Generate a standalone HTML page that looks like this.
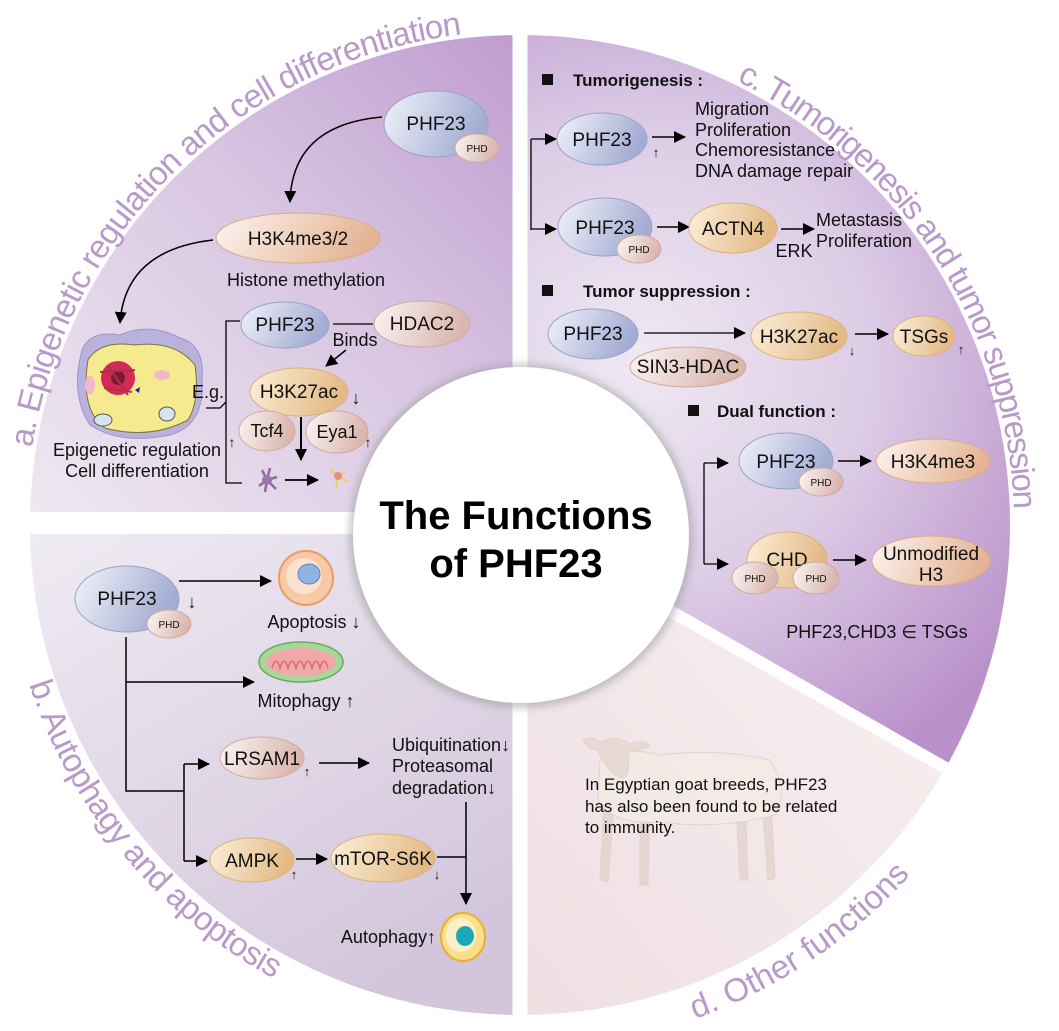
<!DOCTYPE html>
<html><head><meta charset="utf-8"><style>
html,body{margin:0;padding:0;background:#fff;}
svg{display:block;font-family:"Liberation Sans",Arial,sans-serif;}
</style></head><body>
<svg width="1059" height="1031" viewBox="0 0 1059 1031" xmlns="http://www.w3.org/2000/svg">
<defs>
<linearGradient id="ga" x1="0" y1="1" x2="1" y2="0"><stop offset="0" stop-color="#efe9f2"/><stop offset="0.55" stop-color="#d9c6e2"/><stop offset="1" stop-color="#bf9cd0"/></linearGradient>
<radialGradient id="gc" cx="640" cy="360" r="470" gradientUnits="userSpaceOnUse"><stop offset="0" stop-color="#efe9f3"/><stop offset="0.5" stop-color="#dccbe5"/><stop offset="1" stop-color="#b990ca"/></radialGradient>
<linearGradient id="gb" x1="0" y1="0" x2="0.6" y2="1"><stop offset="0" stop-color="#f0ecf3"/><stop offset="1" stop-color="#d3c6dc"/></linearGradient>
<linearGradient id="gd" x1="1" y1="0" x2="0" y2="1"><stop offset="0" stop-color="#f9f1f1"/><stop offset="1" stop-color="#efdfe2"/></linearGradient>
<linearGradient id="blue" x1="0" y1="0" x2="1" y2="0.3"><stop offset="0" stop-color="#f2f4fa"/><stop offset="1" stop-color="#a3acd3"/></linearGradient>
<linearGradient id="peach" x1="0" y1="0" x2="1" y2="0.2"><stop offset="0" stop-color="#fdf5f0"/><stop offset="1" stop-color="#e4b494"/></linearGradient>
<linearGradient id="orange" x1="0" y1="0" x2="1" y2="0.2"><stop offset="0" stop-color="#fcf0da"/><stop offset="1" stop-color="#e3ba86"/></linearGradient>
<linearGradient id="pink" x1="0" y1="0" x2="1" y2="0.2"><stop offset="0" stop-color="#fbf5f4"/><stop offset="1" stop-color="#d9b6ae"/></linearGradient>
<marker id="ah" markerUnits="userSpaceOnUse" markerWidth="12" markerHeight="12" refX="11" refY="6" orient="auto"><path d="M0,0 L12,6 L0,12 z" fill="#000"/></marker>
<filter id="blur" x="-20%" y="-20%" width="140%" height="140%"><feGaussianBlur stdDeviation="4"/></filter>
<path id="pa" d="M32.1,447.7 A494,494 0 0 1 468.4,33.7"/>
<path id="pc" d="M736.6,81 A494,494 0 0 1 1013.9,513.8"/>
<path id="pb" d="M29.2,684.4 A516,516 0 0 0 277.7,980.6"/>
<path id="pd" d="M694.9,1018.9 A524,524 0 0 0 912.5,872.2"/>
</defs>

<path d="M520,525 L30,525 A490,490 0 0 1 520,35 Z" fill="url(#ga)"/>
<path d="M520,525 L520,1015 A490,490 0 0 1 30,525 Z" fill="url(#gb)"/>
<path d="M520,525 L520,35 A490,490 0 0 1 945.6,767.8 Z" fill="url(#gc)"/>
<path d="M520,525 L945.6,767.8 A490,490 0 0 1 520,1015 Z" fill="url(#gd)"/>
<line x1="520" y1="0" x2="520" y2="1031" stroke="#fff" stroke-width="15"/>
<line x1="0" y1="523" x2="520" y2="523" stroke="#fff" stroke-width="22"/>
<line x1="520" y1="525" x2="1000" y2="799" stroke="#fff" stroke-width="12"/>

<g fill="#b899c9" font-size="33">
<text><textPath href="#pa" textLength="640" lengthAdjust="spacing">a. Epigenetic regulation and cell differentiation</textPath></text>
<text><textPath href="#pc" textLength="536" lengthAdjust="spacing">c. Tumorigenesis and tumor suppression</textPath></text>
<text><textPath href="#pb" textLength="392" lengthAdjust="spacing">b. Autophagy and apoptosis</textPath></text>
<text><textPath href="#pd" textLength="262" lengthAdjust="spacing">d. Other functions</textPath></text>
</g>

<g font-size="18" fill="#111" text-anchor="middle">
<path d="M382,117 Q292,125 290,202" fill="none" stroke="#000" stroke-width="1.5" marker-end="url(#ah)"/>
<ellipse cx="436" cy="124" rx="52" ry="33" fill="url(#blue)" stroke="#9aa3c8"/>
<text x="436" y="130" font-size="19">PHF23</text>
<ellipse cx="477" cy="148" rx="22" ry="14" fill="url(#pink)" stroke="#d0aaa0"/>
<text x="477" y="152" font-size="10">PHD</text>

<path d="M213,240 Q125,250 120,323" fill="none" stroke="#000" stroke-width="1.5" marker-end="url(#ah)"/>
<ellipse cx="298" cy="238" rx="82" ry="25" fill="url(#peach)" stroke="#dca98c"/>
<text x="298" y="245" font-size="19">H3K4me3/2</text>
<text x="306" y="286">Histone methylation</text>

<path d="M82,350 Q90,330 120,335 Q150,322 180,338 Q205,345 202,380 Q205,425 170,435 Q120,445 90,425 Q70,395 82,350 Z" fill="#b8b2dc" stroke="#9d96c8"/>
<path d="M88,360 Q100,340 135,345 Q175,340 195,365 Q200,400 188,420 Q150,440 105,428 Q80,410 88,360 Z" fill="#f6ea8e" stroke="#7d7040"/>
<circle cx="118" cy="378" r="17" fill="#d42a5a"/>
<circle cx="118" cy="378" r="7" fill="#7a1a35"/>
<path d="M100,372 L135,370 M104,388 L132,392 M108,366 L128,395" stroke="#b03040" stroke-width="2"/>
<ellipse cx="103" cy="420" rx="9" ry="6" fill="#d8e4ec" stroke="#555"/>
<ellipse cx="167" cy="414" rx="8" ry="7" fill="#d8e4ec" stroke="#555"/>
<ellipse cx="162" cy="375" rx="8" ry="5" fill="#f0b8c8"/>
<ellipse cx="90" cy="385" rx="5" ry="9" fill="#f0b8c8"/>
<path d="M135,390 l5,-3 l-1,6 z" fill="#1a2a8a"/>

<text x="208" y="398">E.g.</text>
<path d="M240,321 L226,321 L226,483 L242,483 M206,408 L220,408 L226,402" fill="none" stroke="#000" stroke-width="1.3"/>
<text x="137" y="456">Epigenetic regulation</text>
<text x="137" y="477">Cell differentiation</text>

<ellipse cx="285" cy="325" rx="44" ry="23" fill="url(#blue)" stroke="#9aa3c8"/>
<text x="285" y="331" font-size="19">PHF23</text>
<line x1="333" y1="324" x2="373" y2="324" stroke="#000" stroke-width="1.3"/>
<ellipse cx="422" cy="324" rx="48" ry="23" fill="url(#pink)" stroke="#d0aaa0"/>
<text x="422" y="330" font-size="19">HDAC2</text>
<text x="355" y="346">Binds</text>
<line x1="346" y1="350" x2="326" y2="366" stroke="#000" stroke-width="1.5" marker-end="url(#ah)"/>
<ellipse cx="299" cy="392" rx="49" ry="24" fill="url(#orange)" stroke="#dcb07a"/>
<text x="299" y="398" font-size="19">H3K27ac</text>
<text x="356" y="404">↓</text>
<ellipse cx="267" cy="431" rx="28" ry="20" fill="url(#pink)" stroke="#d0aaa0"/>
<text x="267" y="437">Tcf4</text>
<ellipse cx="337" cy="432" rx="31" ry="21" fill="url(#pink)" stroke="#d0aaa0"/>
<text x="337" y="438">Eya1</text>
<text x="232" y="447" font-size="14">↑</text>
<text x="368" y="447" font-size="14">↑</text>
<line x1="301" y1="417" x2="301" y2="460" stroke="#000" stroke-width="2" marker-end="url(#ah)"/>
<path d="M262,470 l5,10 l-8,6 m8,-6 l10,-3 m-10,3 l-2,12 m2,-12 l9,9 m-9,-9 l3,-12" stroke="#8e6a9a" stroke-width="2.5" fill="none"/>
<circle cx="267" cy="480" r="5" fill="#9a77a6"/>
<line x1="285" y1="480" x2="318" y2="480" stroke="#000" stroke-width="1.8" marker-end="url(#ah)"/>
<path d="M330,470 l8,6 l8,-4 m-8,4 l-2,12 m2,-12 l10,6" stroke="#f0d060" stroke-width="2" fill="none"/>
<circle cx="338" cy="476" r="4" fill="#e89080"/>

<rect x="542" y="74" width="11" height="11" fill="#111"/>
<text x="573" y="86" text-anchor="start" font-weight="bold" font-size="17">Tumorigenesis :</text>
<path d="M531,139 L531,230" stroke="#000" stroke-width="1.3" fill="none"/>
<line x1="531" y1="139" x2="556" y2="139" stroke="#000" stroke-width="1.3" marker-end="url(#ah)"/>
<line x1="531" y1="229" x2="556" y2="229" stroke="#000" stroke-width="1.3" marker-end="url(#ah)"/>
<ellipse cx="602" cy="139" rx="45" ry="26" fill="url(#blue)" stroke="#9aa3c8"/>
<text x="602" y="146" font-size="19">PHF23</text>
<text x="656" y="157" font-size="13">↑</text>
<line x1="652" y1="137" x2="685" y2="137" stroke="#000" stroke-width="1.5" marker-end="url(#ah)"/>
<g text-anchor="start">
<text x="695" y="115">Migration</text>
<text x="695" y="136">Proliferation</text>
<text x="695" y="156">Chemoresistance</text>
<text x="695" y="177">DNA damage repair</text>
</g>
<ellipse cx="605" cy="227" rx="47" ry="29" fill="url(#blue)" stroke="#9aa3c8"/>
<text x="605" y="234" font-size="19">PHF23</text>
<ellipse cx="639" cy="249" rx="22" ry="14" fill="url(#pink)" stroke="#d0aaa0"/>
<text x="639" y="253" font-size="10">PHD</text>
<line x1="657" y1="227" x2="689" y2="227" stroke="#000" stroke-width="1.5" marker-end="url(#ah)"/>
<ellipse cx="733" cy="228" rx="44" ry="25" fill="url(#orange)" stroke="#dcb07a"/>
<text x="733" y="235" font-size="19">ACTN4</text>
<line x1="781" y1="229" x2="814" y2="229" stroke="#000" stroke-width="1.5" marker-end="url(#ah)"/>
<text x="794" y="257">ERK</text>
<g text-anchor="start"><text x="816" y="226">Metastasis</text><text x="816" y="247">Proliferation</text></g>

<rect x="542" y="285" width="11" height="11" fill="#111"/>
<text x="583" y="297" text-anchor="start" font-weight="bold" font-size="17">Tumor suppression :</text>
<ellipse cx="593" cy="334" rx="45" ry="25" fill="url(#blue)" stroke="#9aa3c8"/>
<text x="593" y="340" font-size="19">PHF23</text>
<ellipse cx="688" cy="367" rx="58" ry="20" fill="url(#pink)" stroke="#d0aaa0"/>
<text x="688" y="373" font-size="19">SIN3-HDAC</text>
<line x1="644" y1="333" x2="745" y2="333" stroke="#000" stroke-width="1.3" marker-end="url(#ah)"/>
<ellipse cx="799" cy="336" rx="48" ry="24" fill="url(#orange)" stroke="#dcb07a"/>
<text x="799" y="343" font-size="19">H3K27ac</text>
<text x="852" y="355" font-size="13">↓</text>
<line x1="855" y1="334" x2="888" y2="334" stroke="#000" stroke-width="1.5" marker-end="url(#ah)"/>
<ellipse cx="924" cy="336" rx="31" ry="20" fill="url(#orange)" stroke="#dcb07a"/>
<text x="924" y="343" font-size="19">TSGs</text>
<text x="961" y="354" font-size="13">↑</text>

<rect x="688" y="405" width="11" height="11" fill="#111"/>
<text x="717" y="417" text-anchor="start" font-weight="bold" font-size="17">Dual function :</text>
<path d="M704,463 L704,564" stroke="#000" stroke-width="1.3"/>
<line x1="704" y1="463" x2="728" y2="463" stroke="#000" stroke-width="1.3" marker-end="url(#ah)"/>
<line x1="704" y1="564" x2="728" y2="564" stroke="#000" stroke-width="1.3" marker-end="url(#ah)"/>
<ellipse cx="786" cy="461" rx="47" ry="28" fill="url(#blue)" stroke="#9aa3c8"/>
<text x="786" y="468" font-size="19">PHF23</text>
<ellipse cx="821" cy="482" rx="22" ry="14" fill="url(#pink)" stroke="#d0aaa0"/>
<text x="821" y="486" font-size="10">PHD</text>
<line x1="838" y1="461" x2="871" y2="461" stroke="#000" stroke-width="1.5" marker-end="url(#ah)"/>
<ellipse cx="933" cy="461" rx="57" ry="22" fill="url(#peach)" stroke="#dca98c"/>
<text x="933" y="468" font-size="19">H3K4me3</text>
<ellipse cx="787" cy="560" rx="40" ry="28" fill="url(#orange)" stroke="#dcb07a"/>
<text x="787" y="566" font-size="19">CHD</text>
<ellipse cx="755" cy="578" rx="23" ry="16" fill="url(#pink)" stroke="#d0aaa0"/>
<text x="755" y="582" font-size="10">PHD</text>
<ellipse cx="816" cy="578" rx="23" ry="16" fill="url(#pink)" stroke="#d0aaa0"/>
<text x="816" y="582" font-size="10">PHD</text>
<line x1="833" y1="560" x2="866" y2="560" stroke="#000" stroke-width="1.5" marker-end="url(#ah)"/>
<ellipse cx="931" cy="561" rx="59" ry="25" fill="url(#peach)" stroke="#dca98c"/>
<text x="931" y="560" font-size="19">Unmodified</text>
<text x="931" y="581" font-size="19">H3</text>
<text x="877" y="638">PHF23,CHD3 ∈ TSGs</text>

<g fill="#f4ece6" stroke="#ddcdc4" stroke-width="1" opacity="0.75">
<path d="M605,780 L600,880 L608,882 L615,790 M640,790 L640,885 L648,885 L650,790 M735,790 L740,880 L748,880 L745,790 M760,780 L768,880 L775,878 L770,780" fill="#e2d2cc"/>
<path d="M600,760 Q620,745 660,755 Q720,748 770,760 Q790,790 775,815 Q720,830 660,822 Q610,825 598,800 Z"/>
<path d="M583,740 Q592,735 600,742 L612,738 Q622,738 630,744 Q645,738 650,746 Q638,752 628,752 Q632,790 612,772 Q600,760 598,750 Q588,750 583,740 Z" fill="#e6d5ce"/>
</g>
<g text-anchor="start" font-size="17">
<text x="585" y="790">In Egyptian goat breeds, PHF23</text>
<text x="585" y="812">has also been found to be related</text>
<text x="585" y="833">to immunity.</text>
</g>

<line x1="179" y1="581" x2="271" y2="581" stroke="#000" stroke-width="1.5" marker-end="url(#ah)"/>
<ellipse cx="127" cy="599" rx="52" ry="33" fill="url(#blue)" stroke="#9aa3c8"/>
<text x="127" y="605" font-size="19">PHF23</text>
<ellipse cx="169" cy="624" rx="22" ry="14" fill="url(#pink)" stroke="#d0aaa0"/>
<text x="169" y="628" font-size="10">PHD</text>
<text x="192" y="608">↓</text>
<circle cx="306" cy="578" r="27" fill="#f8c9a4" stroke="#e49c6a" stroke-width="2"/>
<circle cx="304" cy="576" r="18" fill="#fbe2d0"/>
<ellipse cx="309" cy="574" rx="11" ry="10" fill="#8fb4e2" stroke="#5c86c2"/>
<text x="314" y="628">Apoptosis ↓</text>
<ellipse cx="301" cy="662" rx="42" ry="20" fill="#a6d89a" stroke="#6fa860" stroke-width="1.5"/>
<ellipse cx="301" cy="662" rx="35" ry="14" fill="#f2a8a8"/>
<path d="M272,668 q4,-14 8,0 q4,-14 8,0 q4,-14 8,0 q4,-14 8,0 q4,-14 8,0 q4,-14 8,0 q4,-14 8,0" fill="none" stroke="#d66c70" stroke-width="1.5"/>
<text x="306" y="707">Mitophagy ↑</text>
<path d="M126,637 L126,791 L184,791" fill="none" stroke="#000" stroke-width="1.5"/>
<line x1="126" y1="682" x2="254" y2="682" stroke="#000" stroke-width="1.5" marker-end="url(#ah)"/>
<path d="M184,764 L184,861" stroke="#000" stroke-width="1.5"/>
<line x1="184" y1="764" x2="209" y2="764" stroke="#000" stroke-width="1.5" marker-end="url(#ah)"/>
<line x1="184" y1="861" x2="207" y2="861" stroke="#000" stroke-width="1.5" marker-end="url(#ah)"/>
<ellipse cx="262" cy="758" rx="42" ry="21" fill="url(#pink)" stroke="#d0aaa0"/>
<text x="262" y="765" font-size="19">LRSAM1</text>
<text x="307" y="776" font-size="13">↑</text>
<line x1="319" y1="763" x2="369" y2="763" stroke="#000" stroke-width="1.5" marker-end="url(#ah)"/>
<g text-anchor="start"><text x="392" y="751">Ubiquitination↓</text><text x="392" y="772">Proteasomal</text><text x="392" y="794">degradation↓</text></g>
<line x1="466" y1="802" x2="466" y2="904" stroke="#000" stroke-width="1.5" marker-end="url(#ah)"/>
<ellipse cx="252" cy="860" rx="42" ry="22" fill="url(#orange)" stroke="#dcb07a"/>
<text x="252" y="867" font-size="19">AMPK</text>
<text x="294" y="879" font-size="13">↑</text>
<line x1="296" y1="859" x2="327" y2="859" stroke="#000" stroke-width="1.5" marker-end="url(#ah)"/>
<ellipse cx="383" cy="858" rx="52" ry="24" fill="url(#orange)" stroke="#dcb07a"/>
<text x="383" y="865" font-size="19">mTOR-S6K</text>
<text x="437" y="879" font-size="13">↓</text>
<line x1="437" y1="857" x2="466" y2="857" stroke="#000" stroke-width="1.5"/>
<ellipse cx="463" cy="937" rx="22" ry="24" fill="#f8e08a" stroke="#e8b030" stroke-width="2"/>
<ellipse cx="461" cy="935" rx="15" ry="17" fill="#fcf0c8"/>
<ellipse cx="465" cy="936" rx="9" ry="10" fill="#1fa9b8"/>
<text x="436" y="943" text-anchor="end">Autophagy↑</text>
</g>

<circle cx="521" cy="536" r="172" fill="#9a9a9a" opacity="0.55" filter="url(#blur)"/>
<circle cx="521" cy="535" r="168" fill="#fff"/>
<g font-weight="bold" font-size="40" text-anchor="middle" fill="#000">
<text x="516" y="529">The Functions</text>
<text x="516" y="577">of PHF23</text>
</g>
</svg>
</body></html>
